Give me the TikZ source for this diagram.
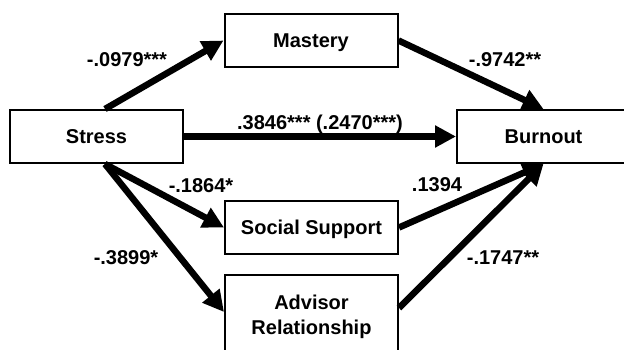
\documentclass[tikz,border=0pt]{standalone}
\usepackage{fontspec}
\setmainfont{Liberation Sans}
\usetikzlibrary{arrows.meta}
\begin{document}
\begin{tikzpicture}[x=1pt,y=-1pt,
  box/.style={draw, line width=2pt, minimum width=173pt, minimum height=53pt, inner sep=0pt,
    font=\fontsize{20}{25}\selectfont\bfseries, text height=14.3pt, text depth=0pt},
  lab/.style={font=\fontsize{20}{24}\selectfont\bfseries, anchor=base, inner sep=0pt},
  arr/.style={line width=6.5pt, -{Triangle[length=21pt,width=21pt]}}
]
\path[use as bounding box, clip] (0,0) rectangle (624,350);
\node[box] (stress) at (96.5,136.5) {Stress};
\node[box] (mastery) at (311,40.5) {Mastery};
\node[box] (burnout) at (543.5,136.5) {Burnout};
\node[box] (social) at (311.5,227.5) {Social Support};
\node[box, minimum height=84pt, align=center, text height=, text depth=] (advisor) at (311.5,317) {Advisor\\Relationship};

\draw[arr] ([xshift=8.5pt]stress.north) -- (mastery.west);
\draw[arr] (mastery.east) -- (burnout.north);
\draw[arr] (stress.east) -- (burnout.west);
\draw[arr] ([xshift=8.5pt]stress.south) -- (social.west);
\draw[arr] ([xshift=8.5pt]stress.south) -- ([yshift=5pt]advisor.west);
\draw[arr] (social.east) -- (burnout.south);
\draw[arr] ([yshift=9pt]advisor.east) -- (burnout.south);

\node[lab] (l1) at (127,67) {-.0979***};
\node[lab] (l2) at (505,67) {-.9742**};
\node[lab] (l3) at (320,130) {.3846*** (.2470***)};
\node[lab] (l4) at (201,193) {-.1864*};
\node[lab] (l5) at (126,264) {-.3899*};
\node[lab] (l6) at (437,192) {.1394};
\node[lab] (l7) at (503,264) {-.1747**};
\end{tikzpicture}
\end{document}
